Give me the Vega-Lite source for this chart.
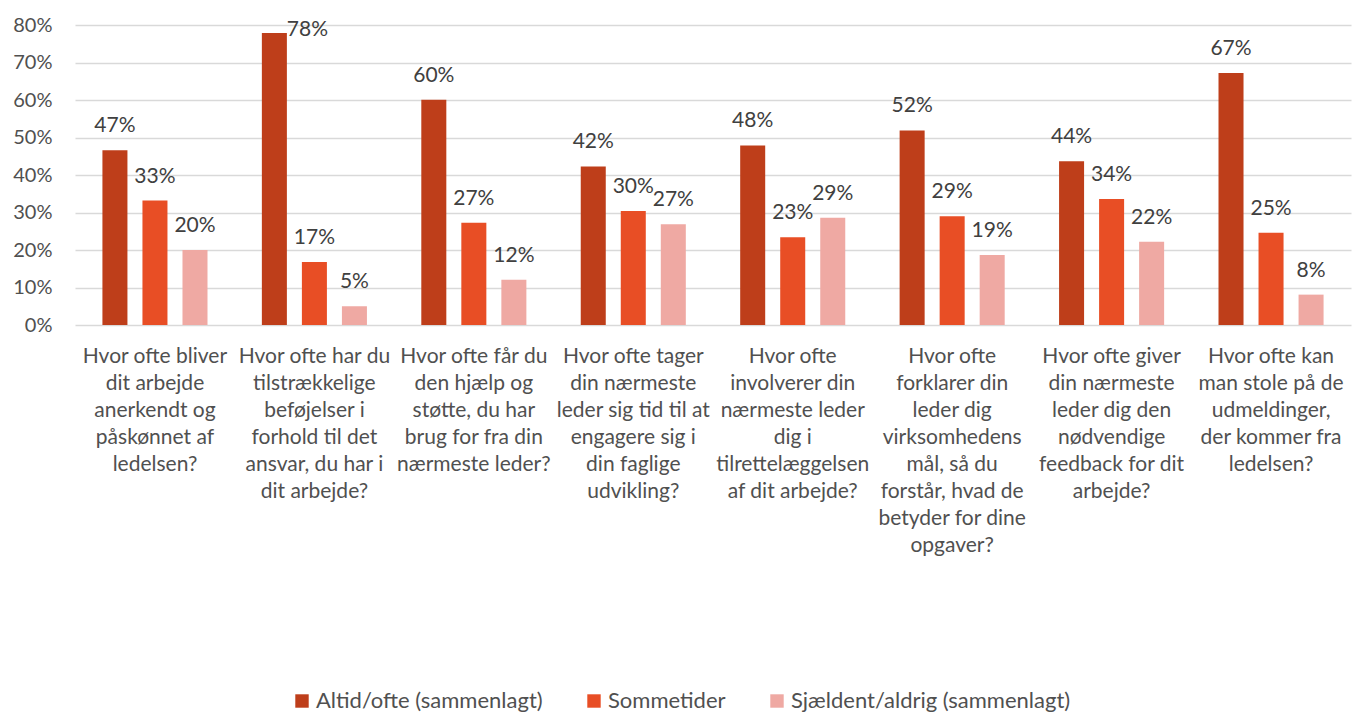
{
  "$schema": "https://vega.github.io/schema/vega-lite/v6.json",
  "autosize": "none",
  "width": 1276,
  "height": 300,
  "padding": {"left": 75, "top": 25, "right": 11, "bottom": 389},
  "background": "white",
  "config": {
    "font": "Lato",
    "view": {"stroke": null},
    "legend": {"padding": 0}
  },
  "data": {
    "values": [
      {"q": "Hvor ofte bliver\ndit arbejde\nanerkendt og\npåskønnet af\nledelsen?", "s": "Altid/ofte (sammenlagt)", "v": 0.466},
      {"q": "Hvor ofte bliver\ndit arbejde\nanerkendt og\npåskønnet af\nledelsen?", "s": "Sommetider", "v": 0.332},
      {"q": "Hvor ofte bliver\ndit arbejde\nanerkendt og\npåskønnet af\nledelsen?", "s": "Sjældent/aldrig (sammenlagt)", "v": 0.200},
      {"q": "Hvor ofte har du\ntilstrækkelige\nbeføjelser i\nforhold til det\nansvar, du har i\ndit arbejde?", "s": "Altid/ofte (sammenlagt)", "v": 0.779},
      {"q": "Hvor ofte har du\ntilstrækkelige\nbeføjelser i\nforhold til det\nansvar, du har i\ndit arbejde?", "s": "Sommetider", "v": 0.168},
      {"q": "Hvor ofte har du\ntilstrækkelige\nbeføjelser i\nforhold til det\nansvar, du har i\ndit arbejde?", "s": "Sjældent/aldrig (sammenlagt)", "v": 0.050},
      {"q": "Hvor ofte får du\nden hjælp og\nstøtte, du har\nbrug for fra din\nnærmeste leder?", "s": "Altid/ofte (sammenlagt)", "v": 0.601},
      {"q": "Hvor ofte får du\nden hjælp og\nstøtte, du har\nbrug for fra din\nnærmeste leder?", "s": "Sommetider", "v": 0.273},
      {"q": "Hvor ofte får du\nden hjælp og\nstøtte, du har\nbrug for fra din\nnærmeste leder?", "s": "Sjældent/aldrig (sammenlagt)", "v": 0.121},
      {"q": "Hvor ofte tager\ndin nærmeste\nleder sig tid til at\nengagere sig i\ndin faglige\nudvikling?", "s": "Altid/ofte (sammenlagt)", "v": 0.423},
      {"q": "Hvor ofte tager\ndin nærmeste\nleder sig tid til at\nengagere sig i\ndin faglige\nudvikling?", "s": "Sommetider", "v": 0.304},
      {"q": "Hvor ofte tager\ndin nærmeste\nleder sig tid til at\nengagere sig i\ndin faglige\nudvikling?", "s": "Sjældent/aldrig (sammenlagt)", "v": 0.269},
      {"q": "Hvor ofte\ninvolverer din\nnærmeste leder\ndig i\ntilrettelæggelsen\naf dit arbejde?", "s": "Altid/ofte (sammenlagt)", "v": 0.479},
      {"q": "Hvor ofte\ninvolverer din\nnærmeste leder\ndig i\ntilrettelæggelsen\naf dit arbejde?", "s": "Sommetider", "v": 0.234},
      {"q": "Hvor ofte\ninvolverer din\nnærmeste leder\ndig i\ntilrettelæggelsen\naf dit arbejde?", "s": "Sjældent/aldrig (sammenlagt)", "v": 0.286},
      {"q": "Hvor ofte\nforklarer din\nleder dig\nvirksomhedens\nmål, så du\nforstår, hvad de\nbetyder for dine\nopgaver?", "s": "Altid/ofte (sammenlagt)", "v": 0.519},
      {"q": "Hvor ofte\nforklarer din\nleder dig\nvirksomhedens\nmål, så du\nforstår, hvad de\nbetyder for dine\nopgaver?", "s": "Sommetider", "v": 0.290},
      {"q": "Hvor ofte\nforklarer din\nleder dig\nvirksomhedens\nmål, så du\nforstår, hvad de\nbetyder for dine\nopgaver?", "s": "Sjældent/aldrig (sammenlagt)", "v": 0.187},
      {"q": "Hvor ofte giver\ndin nærmeste\nleder dig den\nnødvendige\nfeedback for dit\narbejde?", "s": "Altid/ofte (sammenlagt)", "v": 0.437},
      {"q": "Hvor ofte giver\ndin nærmeste\nleder dig den\nnødvendige\nfeedback for dit\narbejde?", "s": "Sommetider", "v": 0.336},
      {"q": "Hvor ofte giver\ndin nærmeste\nleder dig den\nnødvendige\nfeedback for dit\narbejde?", "s": "Sjældent/aldrig (sammenlagt)", "v": 0.222},
      {"q": "Hvor ofte kan\nman stole på de\nudmeldinger,\nder kommer fra\nledelsen?", "s": "Altid/ofte (sammenlagt)", "v": 0.672},
      {"q": "Hvor ofte kan\nman stole på de\nudmeldinger,\nder kommer fra\nledelsen?", "s": "Sommetider", "v": 0.246},
      {"q": "Hvor ofte kan\nman stole på de\nudmeldinger,\nder kommer fra\nledelsen?", "s": "Sjældent/aldrig (sammenlagt)", "v": 0.081}
    ]
  },
  "encoding": {
    "x": {
      "field": "q",
      "type": "nominal",
      "sort": null,
      "scale": {"paddingInner": 0.341, "paddingOuter": 0.172},
      "axis": {
        "title": null,
        "labelAngle": 0,
        "labelExpr": "split(datum.label, '\\n')",
        "labelFontSize": 21,
        "labelLineHeight": 27,
        "labelBaseline": "top",
        "labelPadding": 20,
        "labelLimit": 300,
        "labelColor": "#505050",
        "domain": false,
        "ticks": false
      }
    },
    "xOffset": {
      "field": "s",
      "type": "nominal",
      "sort": ["Altid/ofte (sammenlagt)", "Sommetider", "Sjældent/aldrig (sammenlagt)"],
      "scale": {"paddingInner": 0.375, "paddingOuter": 0}
    },
    "y": {
      "field": "v",
      "type": "quantitative",
      "scale": {"domain": [0, 0.8], "nice": false},
      "axis": {
        "title": null,
        "values": [0, 0.1, 0.2, 0.3, 0.4, 0.5, 0.6, 0.7, 0.8],
        "format": ".0%",
        "labelFontSize": 20,
        "labelColor": "#505050",
        "labelPadding": 23,
        "domain": false,
        "ticks": false,
        "gridColor": "#D9D9D9",
        "gridWidth": 1.5
      }
    }
  },
  "layer": [
    {
      "mark": {"type": "bar"},
      "encoding": {
        "color": {
          "field": "s",
          "type": "nominal",
          "sort": ["Altid/ofte (sammenlagt)", "Sommetider", "Sjældent/aldrig (sammenlagt)"],
          "scale": {
            "domain": ["Altid/ofte (sammenlagt)", "Sommetider", "Sjældent/aldrig (sammenlagt)"],
            "range": ["#BE3E1A", "#E84E25", "#EFA9A3"]
          },
          "legend": {
            "title": null,
            "orient": "none",
            "direction": "horizontal",
            "legendX": 216,
            "legendY": 665,
            "symbolType": "square",
            "symbolSize": 180,
            "symbolStrokeWidth": 0,
            "labelFontSize": 22,
            "labelLimit": 0,
            "labelColor": "#505050",
            "labelOffset": 3,
            "columnPadding": 40
          }
        }
      }
    },
    {
      "transform": [{"filter": "datum.v < 0.75"}],
      "mark": {"type": "text", "dy": -18, "baseline": "alphabetic", "fontSize": 21, "color": "#404040"},
      "encoding": {"text": {"field": "v", "type": "quantitative", "format": ".0%"}}
    },
    {
      "transform": [{"filter": "datum.v >= 0.75"}],
      "mark": {"type": "text", "dx": 33, "dy": 3, "baseline": "alphabetic", "fontSize": 21, "color": "#404040"},
      "encoding": {"text": {"field": "v", "type": "quantitative", "format": ".0%"}}
    }
  ]
}
